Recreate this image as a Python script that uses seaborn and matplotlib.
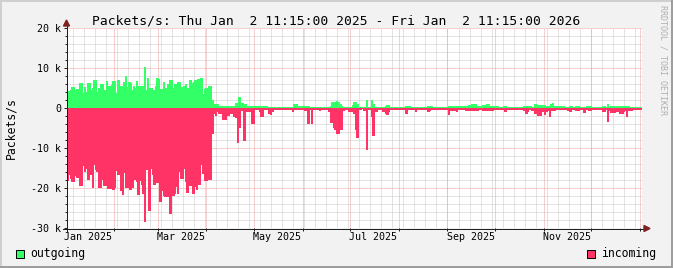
import numpy as np
import pandas as pd
import matplotlib
matplotlib.use("Agg")
import matplotlib.pyplot as plt
import seaborn as sns
from matplotlib.lines import Line2D
from matplotlib.patches import Polygon, Rectangle

# ---------------- data (thousands of packets/s, one value per day) ----------------
outgoing = [
    4.2, 4.2, 4.3, 5.2, 5.1, 4.3, 4.6, 4.5, 6.2, 6.2,
    3.7, 5.2, 4.0, 6.2, 6.1, 4.3, 5.0, 7.0, 6.9, 4.0,
    4.8, 5.8, 5.8, 4.3, 4.4, 6.7, 5.5, 5.5, 5.6, 6.7,
    6.7, 3.7, 6.8, 5.5, 5.4, 4.8, 6.3, 8.0, 5.2, 6.3,
    6.2, 4.3, 5.5, 5.0, 6.7, 5.3, 5.3, 5.5, 5.5, 10.2,
    4.3, 7.3, 4.8, 4.8, 4.0, 4.5, 5.5, 7.3, 7.2, 4.7,
    4.7, 6.3, 5.0, 5.0, 5.8, 6.8, 6.8, 4.8, 5.8, 5.8,
    6.3, 6.3, 5.2, 5.2, 5.5, 6.0, 4.8, 4.8, 6.8, 5.2,
    6.3, 7.0, 7.0, 7.2, 5.5, 7.5, 3.5, 4.7, 4.8, 4.8,
    5.5, 5.5, 2.0, 0.8, 0.8, 0.8, 0.5, 0.5, 0.5, 0.5,
    0.5, 0.5, 0.5, 0.3, 0.3, 0.3, 0.3, 1.2, 1.2, 2.7,
    1.2, 1.2, 0.8, 0.8, 0.5, 0.5, 0.5, 0.5, 0.5, 0.5,
    0.3, 0.3, 0.3, 0.3, 0.3, 0.3, 0.3, 0.2, 0.2, 0.2,
    0.2, 0.2, 0.2, 0.2, 0.2, 0.2, 0.2, 0.2, 0.2, 0.2,
    0.2, 0.2, 0.2, 0.2, 0.8, 0.8, 0.3, 0.3, 0.3, 0.3,
    0.3, 0.3, 0.3, 0.5, 0.2, 0.2, 0.2, 0.2, 0.2, 0.2,
    0.2, 0.2, 0.2, 0.2, 0.2, 0.2, 0.2, 0.5, 1.3, 1.3,
    1.3, 1.7, 1.3, 0.8, 0.3, 0.2, 0.2, 0.2, 0.2, 0.2,
    0.2, 0.6, 1.3, 1.3, 0.8, 0.2, 0.2, 0.2, 0.2, 0.2,
    2.0, 0.2, 0.2, 2.0, 0.8, 0.2, 0.2, 0.2, 0.2, 0.2,
    0.2, 0.2, 0.5, 0.6, 0.6, 0.2, 0.2, 0.2, 0.2, 0.2,
    0.2, 0.2, 0.2, 0.2, 0.2, 0.5, 0.5, 0.3, 0.1, 0.1,
    0.1, 0.1, 0.1, 0.1, 0.1, 0.1, 0.1, 0.1, 0.1, 0.3,
    0.3, 0.3, 0.1, 0.1, 0.1, 0.1, 0.1, 0.1, 0.1, 0.1,
    0.1, 0.1, 0.5, 0.5, 0.3, 0.3, 0.3, 0.1, 0.3, 0.3,
    0.3, 0.3, 0.3, 0.5, 0.5, 0.7, 0.7, 0.8, 0.8, 0.8,
    0.5, 0.5, 0.3, 0.5, 0.7, 0.7, 0.8, 0.8, 0.5, 0.5,
    0.3, 0.3, 0.3, 0.3, 0.1, 0.1, 0.1, 0.3, 0.3, 0.1,
    0.1, 0.1, 0.2, 0.2, 0.1, 0.1, 0.1, 0.1, 0.1, 0.1,
    0.3, 0.3, 0.1, 0.3, 0.3, 0.1, 0.1, 0.8, 0.5, 0.7,
    0.7, 0.3, 0.7, 0.7, 0.5, 0.5, 0.3, 1.0, 1.2, 0.5,
    0.5, 0.3, 0.3, 0.3, 0.3, 0.3, 0.1, 0.1, 0.1, 0.3,
    0.3, 0.1, 0.1, 0.3, 0.3, 0.1, 0.1, 0.1, 0.1, 0.1,
    0.3, 0.3, 0.3, 0.1, 0.1, 0.1, 0.1, 0.1, 0.1, 0.1,
    0.3, 0.3, 0.1, 0.8, 0.1, 0.3, 0.3, 0.3, 0.1, 0.3,
    0.3, 0.3, 0.3, 0.3, 0.3, 0.3, 0.3, 0.2, 0.2, 0.1,
    0.1, 0.1, 0.1, 0.1, 0.1,
]

incoming = [
    -18.2, -16.7, -17.7, -18.3, -18.3, -16.8, -17.5, -17.0, -19.3, -19.3,
    -14.5, -16.0, -15.2, -17.8, -16.7, -16.7, -20.0, -14.2, -15.5, -16.0,
    -20.0, -20.0, -17.8, -19.3, -19.5, -18.8, -20.2, -20.2, -13.8, -20.3,
    -20.0, -15.7, -16.7, -16.7, -20.7, -21.7, -16.2, -20.0, -20.0, -16.7,
    -20.5, -19.8, -18.0, -18.0, -18.5, -21.7, -18.2, -19.2, -21.3, -28.5,
    -15.5, -15.5, -25.7, -15.2, -16.7, -19.2, -18.7, -18.7, -17.7, -23.3,
    -20.7, -21.8, -22.2, -22.2, -22.2, -26.5, -16.2, -21.8, -21.3, -19.7,
    -21.3, -16.0, -17.7, -17.7, -15.2, -18.3, -21.2, -18.5, -19.3, -19.3,
    -21.3, -19.7, -20.3, -19.2, -19.2, -14.2, -16.3, -18.2, -18.2, -15.0,
    -18.0, -18.0, -6.3, -1.3, -2.0, -1.0, -1.5, -1.5, -0.8, -2.8,
    -3.0, -1.8, -1.8, -1.3, -1.3, -1.3, -2.2, -2.5, -8.7, -4.8,
    -0.7, -0.7, -8.2, -1.0, -0.8, -1.0, -1.0, -3.8, -3.8, -0.3,
    -0.3, -0.3, -0.8, -2.2, -2.2, -0.5, -0.5, -0.5, -1.3, -1.7,
    -1.0, -0.5, -0.5, -0.5, -0.3, -0.3, -0.3, -0.3, -0.5, -0.5,
    -0.3, -0.3, -0.3, -0.8, -0.5, -0.5, -0.2, -0.5, -0.3, -0.3,
    -0.3, -0.6, -0.6, -3.8, -0.5, -3.8, -0.5, -0.3, -0.3, -0.3,
    -0.6, -0.3, -0.3, -0.3, -0.3, -0.3, -0.8, -3.7, -3.7, -4.8,
    -5.5, -6.5, -6.3, -5.3, -5.3, -0.6, -0.5, -0.5, -0.5, -0.8,
    -1.0, -0.3, -1.3, -5.5, -7.5, -0.5, -0.3, -0.2, -0.6, -0.6,
    -10.5, -0.5, -0.5, -2.2, -6.8, -1.0, -1.0, -0.3, -0.3, -0.3,
    -0.8, -0.8, -1.3, -1.7, -0.8, -0.3, -0.3, -0.3, -0.3, -0.3,
    -0.3, -0.3, -0.3, -0.3, -0.3, -1.3, -0.4, -0.4, -0.4, -0.4,
    -0.4, -0.8, -0.4, -0.4, -0.4, -0.4, -0.4, -0.4, -0.4, -0.8,
    -0.6, -0.4, -0.4, -0.4, -0.4, -0.4, -0.4, -0.4, -0.4, -0.4,
    -0.4, -0.4, -1.7, -0.6, -0.6, -0.6, -0.6, -1.0, -0.4, -0.4,
    -0.4, -0.4, -0.4, -0.6, -0.6, -0.6, -0.6, -0.6, -0.6, -0.6,
    -0.6, -0.4, -0.4, -0.4, -0.6, -0.6, -0.6, -0.6, -0.6, -0.6,
    -0.6, -0.4, -0.4, -0.4, -0.4, -0.4, -0.4, -0.4, -1.0, -0.4,
    -0.4, -0.4, -0.4, -0.4, -0.4, -0.4, -0.4, -0.4, -0.4, -0.4,
    -0.6, -1.3, -0.8, -0.4, -0.4, -0.6, -0.6, -1.5, -1.5, -2.0,
    -2.0, -1.0, -1.0, -1.7, -0.8, -0.6, -2.2, -0.6, -0.6, -0.6,
    -0.4, -0.4, -0.4, -0.4, -0.4, -0.4, -0.4, -0.4, -0.6, -0.8,
    -0.4, -0.4, -0.4, -0.6, -0.6, -0.4, -0.4, -0.4, -1.2, -0.4,
    -0.4, -0.6, -0.6, -0.4, -0.4, -0.4, -0.4, -0.4, -0.4, -0.4,
    -1.0, -1.0, -0.4, -3.5, -0.6, -1.2, -1.2, -1.2, -0.6, -1.0,
    -1.0, -1.3, -1.3, -0.8, -0.6, -2.2, -0.6, -0.6, -0.6, -0.4,
    -0.4, -0.4, -0.4, -0.3, -0.3,
]

y_ticks = [-30, -20, -10, 0, 10, 20]
y_tick_labels = ["-30 k", "-20 k", "-10 k", "0", "10 k", "20 k"]
x_tick_labels = ["Jan 2025", "Mar 2025", "May 2025", "Jul 2025", "Sep 2025", "Nov 2025"]
series_names = ["outgoing", "incoming"]
title = "Packets/s: Thu Jan  2 11:15:00 2025 - Fri Jan  2 11:15:00 2026"
y_label = "Packets/s"
watermark = "RRDTOOL / TOBI OETIKER"
start = pd.Timestamp("2025-01-02 11:15")
end = pd.Timestamp("2026-01-02 11:15")

# ---------------- styling ----------------
GREEN = "#33FF66"
PINK = "#FF3366"
BACK = "#F2F2F2"
MINOR = "#C8C8C8"
MAJOR = "#F0A0A0"
AXIS = "#1F1F1F"
ARROW = "#801F1F"
MONO = "DejaVu Sans Mono"
PX = 0.72  # one pixel in points at dpi 100

W, H = 673, 268
L, R, T, B = 67, 642, 28, 228

def fx(x):
    return x / W

def fy(y):
    return 1 - y / H

def day(ts):
    return (ts - start) / pd.Timedelta(days=1)

fig = plt.figure(figsize=(W / 100, H / 100), dpi=100, facecolor=BACK)
ax = fig.add_axes([fx(L), fy(B), (R - L) / W, (B - T) / H])
ax.set_facecolor("white")

span = day(end)

# grid (1px dotted, drawn first, beneath the data)
dot = (0, (1, 1))
gkw = dict(lw=PX, ls=dot, snap=True)
for v in np.arange(y_ticks[0], y_ticks[-1] + 1, 2):
    if v % 10:
        ax.axhline(v, color=MINOR, zorder=0.5, **gkw)
weeks = pd.date_range(start.normalize(), end, freq="W-MON")
for w in weeks:
    if start < w < end:
        ax.axvline(day(w), color=MINOR, zorder=0.5, **gkw)
months = pd.date_range(start.normalize(), end, freq="MS")
for m in months:
    ax.axvline(day(m), color=MAJOR, zorder=0.6, **gkw)
for v in y_ticks:
    ax.axhline(v, color=MAJOR, zorder=0.6, **gkw)

df = pd.DataFrame({
    "day": np.arange(len(outgoing)) + 0.5,
    "outgoing": outgoing,
    "incoming": incoming,
})

sns.barplot(data=df, x="day", y="outgoing", native_scale=True, width=1.05,
            color=GREEN, saturation=1, linewidth=0, errorbar=None,
            antialiased=False, ax=ax)
sns.barplot(data=df, x="day", y="incoming", native_scale=True, width=1.05,
            color=PINK, saturation=1, linewidth=0, errorbar=None,
            antialiased=False, ax=ax)
for p in ax.patches:
    p.set_zorder(3)
    p.set_snap(False)

ax.set_xlim(0, span)
ax.set_ylim(y_ticks[0], y_ticks[-1])
ax.set_xlabel("")
ax.set_ylabel("")
for s in ax.spines.values():
    s.set_visible(False)

# ticks
ax.set_xticks([day(m) for m in months])
ax.set_xticklabels([])
label_dates = pd.date_range("2025-01-01", periods=len(x_tick_labels), freq="2MS") + pd.Timedelta(days=15)
ax.set_xticks([day(d) for d in label_dates], minor=True)
ax.set_xticklabels(x_tick_labels, minor=True, fontsize=7.2, family=MONO)
ax.tick_params(axis="x", which="major", length=2.2, width=PX, color=AXIS, direction="out")
ax.tick_params(axis="x", which="minor", length=0, pad=2.6)
ax.set_yticks(y_ticks)
ax.set_yticklabels(y_tick_labels, fontsize=7.2, family=MONO)
ax.set_yticks([v for v in np.arange(y_ticks[0], y_ticks[-1] + 1, 2) if v % 10], minor=True)
ax.tick_params(axis="y", which="major", length=2.2, width=PX, color=AXIS, pad=2.0)
ax.tick_params(axis="y", which="minor", length=1.4, width=PX, color=AXIS)

# axis lines and arrows (figure pixel coordinates)
fig.add_artist(Line2D([fx(66.5), fx(66.5)], [fy(231), fy(24)], color=AXIS, lw=PX,
                      transform=fig.transFigure, zorder=5))
fig.add_artist(Line2D([fx(63), fx(646)], [fy(228.5), fy(228.5)], color=AXIS, lw=PX,
                      transform=fig.transFigure, zorder=5))
fig.add_artist(Polygon([[fx(63.5), fy(26)], [fx(69.5), fy(26)], [fx(66.5), fy(20)]],
                       closed=True, color=ARROW, transform=fig.transFigure, zorder=6))
fig.add_artist(Polygon([[fx(644), fy(225.5)], [fx(644), fy(231.5)], [fx(650), fy(228.5)]],
                       closed=True, color=ARROW, transform=fig.transFigure, zorder=6))

# texts
fig.text(fx(336), fy(24.5), title, ha="center", va="baseline", fontsize=9.4, family=MONO)
fig.text(fx(11), fy(128), y_label, rotation=90, ha="center", va="center",
         fontsize=8.3, family=MONO)
fig.text(fx(663.5), fy(60), watermark, rotation=270, ha="center", va="center",
         fontsize=6, family=MONO, color="#B0B0B0")

# legend
for (bx, tx, col, name) in [(15.5, 30, GREEN, series_names[0]), (587, 601, PINK, series_names[1])]:
    fig.add_artist(Rectangle((fx(bx), fy(258)), 8 / W, 8 / H, facecolor=col,
                             edgecolor="black", lw=PX, transform=fig.transFigure))
    fig.text(fx(tx), fy(254), name, ha="left", va="center", fontsize=8.3, family=MONO)

# outer frame (3D shade)
fig.add_artist(Line2D([0, 1], [fy(1), fy(1)], color="#CFCFCF", lw=2 * PX, transform=fig.transFigure))
fig.add_artist(Line2D([fx(1), fx(1)], [0, 1], color="#CFCFCF", lw=2 * PX, transform=fig.transFigure))
fig.add_artist(Line2D([0, 1], [fy(267), fy(267)], color="#9E9E9E", lw=2 * PX, transform=fig.transFigure))
fig.add_artist(Line2D([fx(672), fx(672)], [0, 1], color="#9E9E9E", lw=2 * PX, transform=fig.transFigure))

fig.savefig("out.png", dpi=100, facecolor=fig.get_facecolor())
